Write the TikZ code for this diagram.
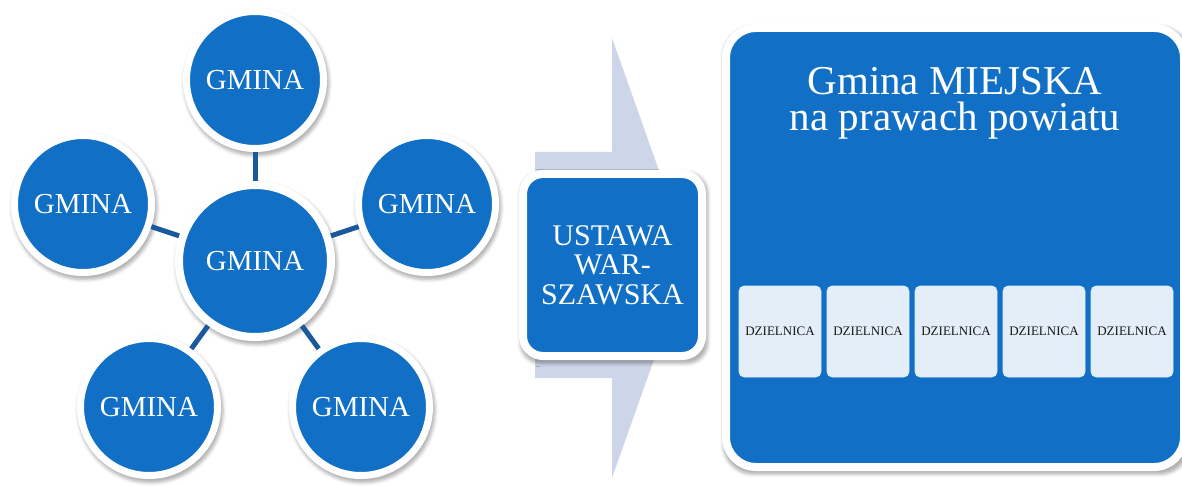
\documentclass[tikz,border=0pt]{standalone}
\usepackage{fontspec}
\setmainfont{Liberation Serif}
\usetikzlibrary{shadows.blur}
\definecolor{gminablue}{RGB}{17,112,198}
\definecolor{linkblue}{RGB}{26,90,156}
\definecolor{arrowgray}{RGB}{205,213,232}
\definecolor{dzielfill}{RGB}{227,238,248}

\begin{document}
\begin{tikzpicture}[x=1pt,y=-1pt,
	cien/.style={blur shadow={shadow xshift=1.5pt,shadow yshift=-3pt,shadow blur radius=3pt,shadow opacity=30,shadow scale=#1}},
	gmina/.style={circle,fill=gminablue,draw=white,line width=7pt,minimum size=137pt,text=white,font=\fontsize{29}{30}\selectfont,cien=1.06},
	gminasrodek/.style={gmina,line width=8pt,minimum size=152pt},
	link/.style={linkblue,line width=5pt},
	ustawa/.style={rectangle,rounded corners=20pt,fill=gminablue,draw=white,line width=8pt,minimum width=179pt,minimum height=182pt,text=white,align=center,font=\fontsize{30}{29.5}\selectfont,cien=1.05},
	miasto/.style={rectangle,rounded corners=30pt,fill=gminablue,draw=white,line width=8pt,minimum width=458pt,minimum height=439pt,cien=1.02},
	dzielnica/.style={rectangle,rounded corners=5pt,fill=dzielfill,draw=white!85!gminablue,line width=0.6pt,minimum width=82pt,minimum height=91pt,text=black!90,font=\fontsize{13}{15}\selectfont}]
\useasboundingbox (0,0) rectangle (1182,486);
% gminy
\node[gminasrodek] (srodek) at (255,261) {GMINA};
\node[gmina] (gora) at (255,80) {GMINA};
\node[gmina] (lewa) at (83,204) {GMINA};
\node[gmina] (prawa) at (427,204) {GMINA};
\node[gmina] (lewadol) at (149,407) {GMINA};
\node[gmina] (prawadol) at (361,407) {GMINA};
\draw[link] (srodek) -- (gora);
\draw[link] (srodek) -- (lewa);
\draw[link] (srodek) -- (prawa);
\draw[link] (srodek) -- (lewadol);
\draw[link] (srodek) -- (prawadol);
% strzalka
\fill[arrowgray] (535,152) -- (612,152) -- (612,38) -- (690,258) -- (612,478) -- (612,378) -- (535,378) -- cycle;
\node[ustawa] (ustawa) at (612.5,265) {USTAWA\\WAR-\\SZAWSKA};
% miasto
\node[miasto] (miasto) at (955,247.5) {};
\node[text=white,align=center,anchor=base,font=\fontsize{41}{36}\selectfont] (tytul) at (955,131) {Gmina MIEJSKA\\na prawach powiatu};
\node[dzielnica] (d1) at (780,331.5) {DZIELNICA};
\node[dzielnica] (d2) at (868,331.5) {DZIELNICA};
\node[dzielnica] (d3) at (956,331.5) {DZIELNICA};
\node[dzielnica] (d4) at (1044,331.5) {DZIELNICA};
\node[dzielnica] (d5) at (1132,331.5) {DZIELNICA};
\end{tikzpicture}
\end{document}
